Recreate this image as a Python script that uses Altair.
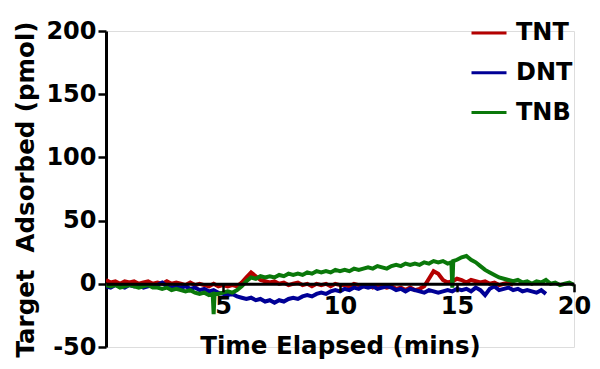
import altair as alt
import pandas as pd

# Sampling step of the time grid (minutes)
STEP = 0.2

SERIES = ["TNT", "DNT", "TNB"]
COLORS = ["#b40000", "#000096", "#0a780a"]
X_TICKS = [5, 10, 15, 20]
Y_TICKS = [-50, 0, 50, 100, 150, 200]

# Target adsorbed (pmol), read every 0.2 min from t = 0
TNT = [3, 1, 2, 0, 2, 1,
       2, 0, 1, 2, 0,
       1, 0, 2, 0, 1,
       0, -1, 1, -1, 0,
       -1, -2, 0, -2, -1,
       -2, -1, -2, 1, 5,
       9, 6, 3, 2, 1,
       2, 0, 1, -1, 0,
       1, -1, 0, -2, 0,
       -1, 0, -2, 0, -1,
       -1, -2, 0, -1, -2,
       -1, -3, -1, -2, -3,
       -2, -4, -3, -5, -3,
       -5, -4, -2, 4, 10,
       8, 3, 1, 2, 4,
       3, 1, 3, 2, 1,
       2, 0, 1, -1, 0,
       1, -1]

DNT = [-2, -3, -1, -2, -3, -1,
       -2, -1, -3, -2, -1,
       -1, 1, -2, -3, -2,
       -3, -2, -4, -3, -5,
       -4, -6, -5, -7, -8,
       -9, -8, -10, -11, -12,
       -11, -13, -12, -14, -13,
       -15, -13, -14, -12, -11,
       -12, -10, -9, -10, -8,
       -7, -8, -6, -5, -6,
       -4, -5, -3, -4, -2,
       -3, -2, -4, -3, -2,
       -3, -5, -4, -6, -4,
       -5, -6, -7, -5, -6,
       -7, -6, -5, -6, -4,
       -5, -4, -6, -3, -5,
       -9, -4, -2, -5, -4,
       -3, -5, -4, -6, -5,
       -6, -7, -5, -8]

TNB = [-1, -2, -1, -3, -2, -1,
       -2, -3, -2, -1, -3,
       -3, -4, -3, -5, -4,
       -5, -6, -5, -7, -8,
       -7, -9, -24, -8, -7,
       -6, -7, -5, -2, 2,
       5, 4, 6, 5, 6,
       5, 7, 6, 8, 7,
       8, 7, 9, 8, 10,
       9, 10, 9, 11, 10,
       11, 10, 12, 11, 12,
       13, 12, 14, 13, 12,
       14, 15, 14, 16, 15,
       16, 15, 17, 16, 18,
       17, 18, 16, -3, 19,
       21, 22, 19, 17, 14,
       11, 9, 7, 5, 4,
       3, 2, 3, 1, 2,
       0, 2, 1, 3, 0,
       1, -1, 0, 1, -1]

# extra readings around the two narrow TNB spikes
TNB_EXTRA_T = [4.56, 4.64, 14.76, 14.84]
TNB_EXTRA_V = [-8, -8, 17, 18]

rows = []
for name, vals in zip(SERIES, [TNT, DNT, TNB]):
    for i, v in enumerate(vals):
        rows.append({"t": round(i * STEP, 2), "v": v, "s": name})
for t, v in zip(TNB_EXTRA_T, TNB_EXTRA_V):
    rows.append({"t": t, "v": v, "s": "TNB"})
df = pd.DataFrame(rows)

FONT = "DejaVu Sans"

x_axis = alt.Axis(
    values=X_TICKS, offset=-63.2, zindex=1, grid=False,
    domainColor="black", domainWidth=3, tickColor="black", tickWidth=2.5,
    tickSize=8, labelFontSize=24, labelFontWeight="bold", labelColor="black",
    labelPadding=3, labelFlush=False, title="Time Elapsed (mins)",
    titleFontSize=24.5, titleFontWeight="bold", titleColor="black",
    titlePadding=16,
)
y_axis = alt.Axis(
    values=Y_TICKS, grid=False, domainColor="black", domainWidth=3,
    tickColor="black", tickWidth=2.5, tickSize=8, labelFontSize=24,
    labelFontWeight="bold", labelColor="black", labelPadding=2,
    labelFlush=False,
    labelExpr="datum.value < 0 ? '-' + (-datum.value) : datum.label",
    title="Target\u00a0 Adsorbed (pmol)",
    titleFontSize=24.5, titleFontWeight="bold", titleColor="black",
    titlePadding=7,
)

chart = alt.Chart(df).mark_line(strokeWidth=4, clip=True).encode(
    x=alt.X("t:Q", scale=alt.Scale(domain=[0, 20], nice=False, zero=False), axis=x_axis),
    y=alt.Y("v:Q", scale=alt.Scale(domain=[-50, 200], nice=False), axis=y_axis),
    color=alt.Color(
        "s:N",
        scale=alt.Scale(domain=SERIES, range=COLORS),
        legend=alt.Legend(
            title=None, orient="none", legendX=364, legendY=-17,
            symbolType="stroke", symbolSize=1225, symbolStrokeWidth=3,
            labelFontSize=24, labelFontWeight="bold", labelColor="black",
            labelOffset=8, rowPadding=8.8, padding=0,
        ),
    ),
).properties(
    width=468, height=316,
    autosize=alt.AutoSizeParams(type="none"),
    padding={"left": 98, "top": 23, "right": 18, "bottom": 14},
).configure_view(stroke=None).configure(font=FONT)

chart.save("out.html", embed_options={"renderer": "svg", "actions": False})
